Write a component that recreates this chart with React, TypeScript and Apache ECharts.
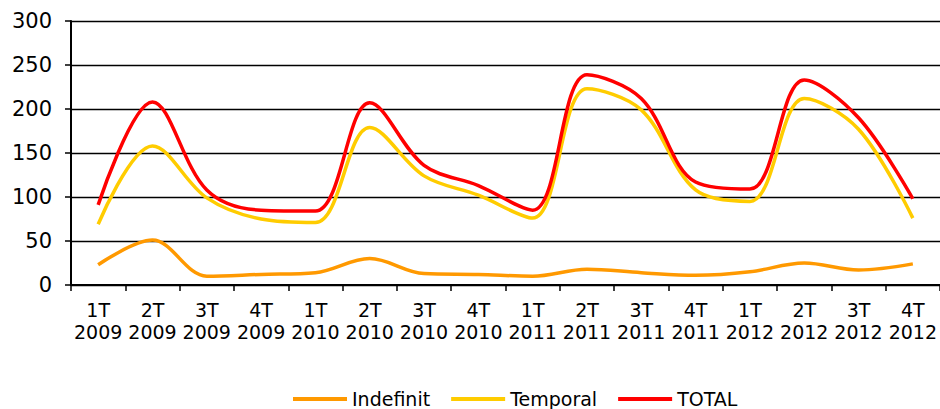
import React, { useEffect, useRef } from "react";
import * as echarts from "echarts";

const categories = [
  "1T\n2009", "2T\n2009", "3T\n2009", "4T\n2009",
  "1T\n2010", "2T\n2010", "3T\n2010", "4T\n2010",
  "1T\n2011", "2T\n2011", "3T\n2011", "4T\n2011",
  "1T\n2012", "2T\n2012", "3T\n2012", "4T\n2012",
];
const indefinit = [23, 51, 10, 12, 14, 30, 13, 12, 10, 18, 14, 11, 15, 25, 17, 24];
const temporal = [69, 158, 99, 75, 71, 179, 124, 102, 76, 223, 199, 108, 95, 212, 177, 76];
const total = [91, 208, 108, 85, 84, 207, 136, 113, 85, 239, 212, 117, 109, 233, 190, 98];
const yTicks = { min: 0, max: 300, interval: 50 };

const FONT = "'DejaVu Sans', Verdana, sans-serif";

export default function App() {
  const ref = useRef<HTMLDivElement>(null);
  useEffect(() => {
    if (!ref.current) return;
    const chart = echarts.init(ref.current, undefined, { renderer: "svg" });
    const mk = (name: string, data: number[], color: string) => ({
      name,
      type: "line",
      data,
      smooth: 0.35,
      symbol: "none",
      showSymbol: false,
      lineStyle: { color, width: 3.5 },
      itemStyle: { color },
    });
    chart.setOption({
      animation: false,
      textStyle: { fontFamily: FONT },
      grid: { left: 71, top: 21, width: 874, height: 264, containLabel: false },
      legend: {
        left: 293,
        top: 388,
        icon: "rect",
        itemWidth: 54,
        itemHeight: 4,
        itemGap: 21,
        itemTextGap: 7,
        padding: 0,
        textStyle: { fontFamily: FONT, fontSize: 19, color: "#000", lineHeight: 22 },
        data: ["Indefinit", "Temporal", "TOTAL"],
      },
      xAxis: {
        type: "category",
        data: categories,
        boundaryGap: true,
        axisLine: { lineStyle: { color: "#000", width: 2 } },
        axisTick: { show: true, length: 6, lineStyle: { color: "#000", width: 1.5 } },
        axisLabel: {
          color: "#000",
          fontFamily: FONT,
          fontSize: 19,
          lineHeight: 22,
          margin: 14,
          interval: 0,
        },
        splitLine: { show: false },
      },
      yAxis: {
        type: "value",
        min: yTicks.min,
        max: yTicks.max,
        interval: yTicks.interval,
        axisLine: { show: true, lineStyle: { color: "#000", width: 2 } },
        axisTick: { show: true, length: 6, lineStyle: { color: "#000", width: 1.5 } },
        axisLabel: { color: "#000", fontFamily: FONT, fontSize: 21, margin: 19 },
        splitLine: { show: true, lineStyle: { color: "#000", width: 1.3 } },
      },
      series: [
        mk("Indefinit", indefinit, "#FF9900"),
        mk("Temporal", temporal, "#FFCC00"),
        mk("TOTAL", total, "#FF0000"),
      ],
    });
    return () => chart.dispose();
  }, []);
  return (
    <div
      ref={ref}
      style={{ position: "fixed", left: 0, top: 0, width: 940, height: 409, background: "#fff" }}
    />
  );
}
